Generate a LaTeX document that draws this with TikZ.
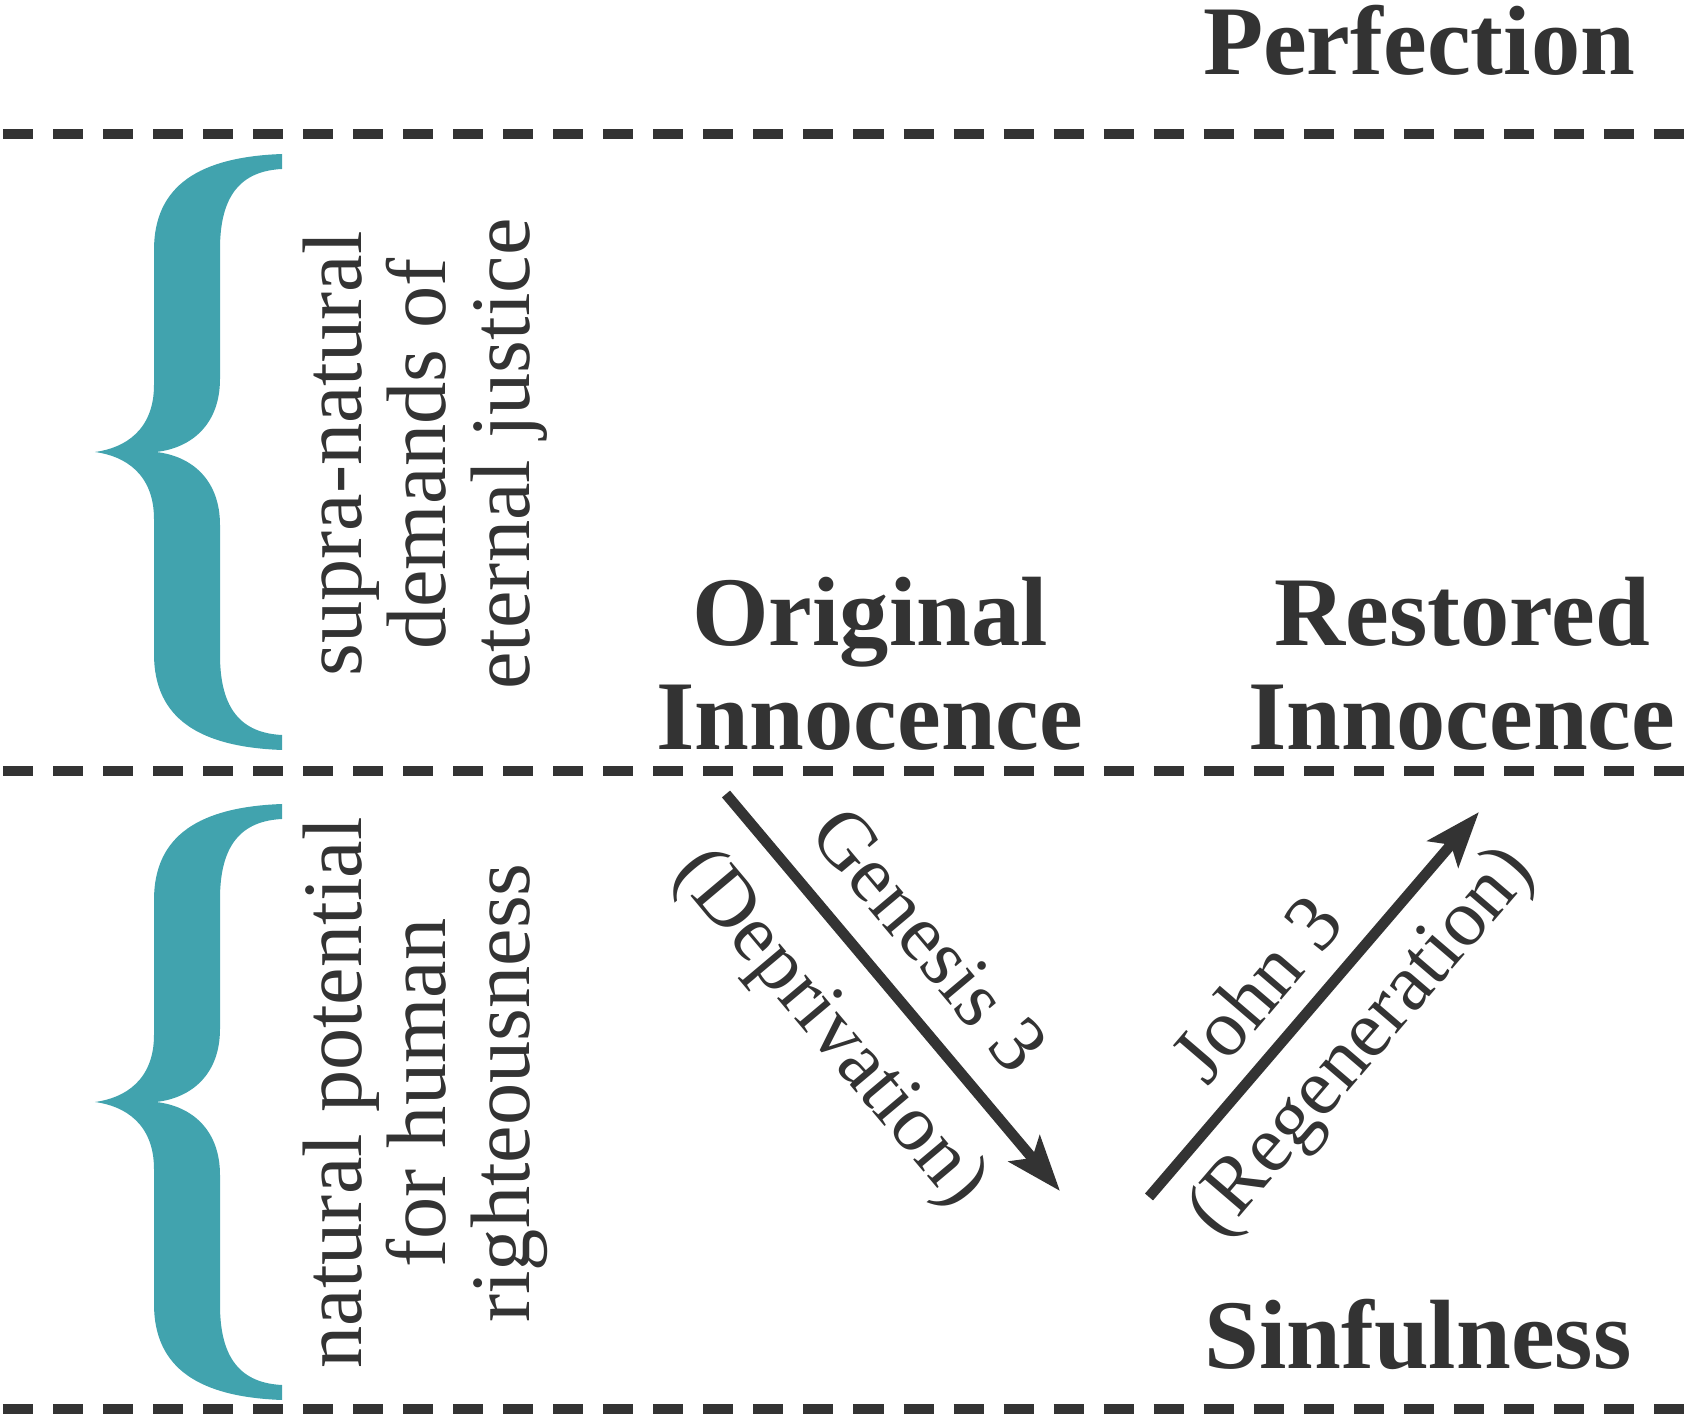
\documentclass[tikz,border=0pt]{standalone}
\usepackage{fontspec}
\setmainfont{Liberation Serif}
\usepackage{xcolor}
\usetikzlibrary{arrows.meta}

\definecolor{inkgray}{HTML}{333333}
\definecolor{braceteal}{HTML}{41A3AE}

\begin{document}
\begin{tikzpicture}[
    x=0.01cm, y=-0.01cm,
    title/.style={font=\fontsize{28}{29.5}\selectfont\bfseries, text=inkgray, align=center, inner sep=0pt, text depth=0pt, anchor=south},
    sidetext/.style={font=\fontsize{24}{23.8}\selectfont, text=inkgray, align=center, inner sep=0pt, text depth=0pt, anchor=south, rotate=90},
    dashline/.style={draw=inkgray, line width=2.6pt, dash pattern=on 3mm off 2mm},
    arrow/.style={-{Stealth[length=5.5mm, width=4mm, inset=1.2mm]}, line width=3pt, inkgray},
    arrowlabel/.style={font=\fontsize{23}{23}\selectfont, text=inkgray, sloped, inner sep=2pt},
]
\useasboundingbox (0,0) rectangle (1687,1419);

% Level lines
\draw[dashline] (3,134) -- (1687,134);
\draw[dashline] (3,771) -- (1687,771);
\draw[dashline] (3,1409) -- (1687,1409);

% Braces
\foreach \off in {0,650}{
  \fill[braceteal, shift={(0,\off)}] (282,154) .. controls (200,157) and (154,185) .. (154,250)
    -- (154,385) .. controls (154,430) and (125,448) .. (95,452)
    .. controls (125,456) and (154,474) .. (154,519) -- (154,654)
    .. controls (154,719) and (200,747) .. (282,750) -- (282,735)
    .. controls (242,733) and (220,710) .. (220,655) -- (220,525)
    .. controls (220,480) and (192,456) .. (156,452)
    .. controls (192,448) and (220,424) .. (220,379) -- (220,249)
    .. controls (220,194) and (242,171) .. (282,169) -- cycle;
}

% Side texts
\node[sidetext] (supra) at (530,454) {supra-natural\\demands of\\eternal justice};
\node[sidetext] (natural) at (530,1093) {natural potential\\for human\\righteousness};

% Levels
\node[title] (perfection) at (1419,75) {Perfection};
\node[title] (original) at (870,750) {Original\\Innocence};
\node[title] (restored) at (1462,750) {Restored\\Innocence};
\node[title] (sinfulness) at (1418,1369) {Sinfulness};

% Arrows
\coordinate (fallstart) at (726,794);
\coordinate (fallend) at (1060,1191);
\coordinate (risestart) at (1149,1197);
\coordinate (riseend) at (1479,812);

\draw[arrow] (fallstart) -- node[arrowlabel, pos=0.467, above=6.4pt] {Genesis 3}
    node[arrowlabel, pos=0.475, below=6.8pt] {(Deprivation)} (fallend);
\draw[arrow] (risestart) -- node[arrowlabel, pos=0.45, above=4pt] {John 3}
    node[arrowlabel, pos=0.505, below=4pt] {(Regeneration)} (riseend);

\end{tikzpicture}
\end{document}
